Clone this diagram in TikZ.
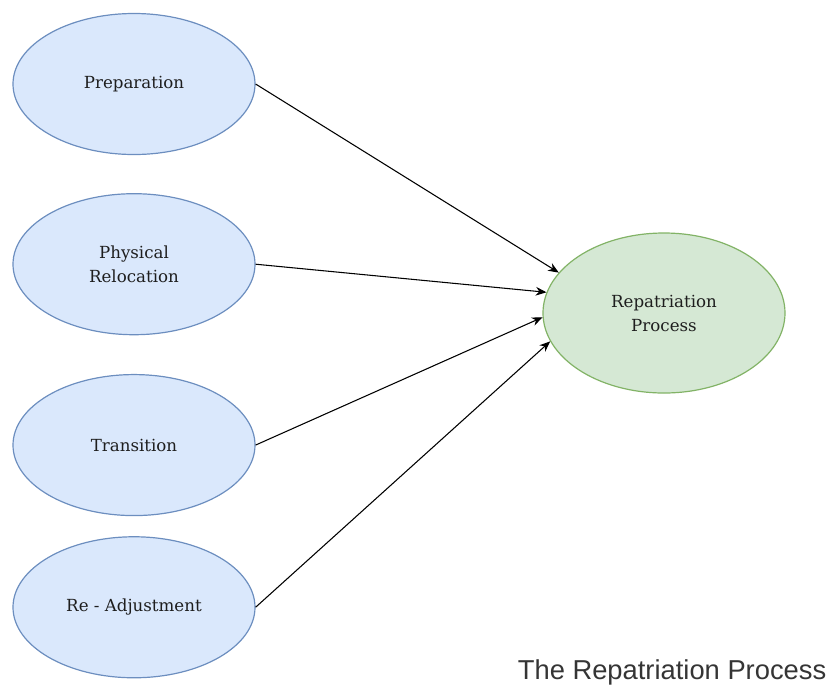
\documentclass[tikz,border=0pt]{standalone}
\usepackage{fontspec}
\setmainfont{DejaVu Serif}
\newfontfamily\titlefont{Liberation Sans}
\usetikzlibrary{shapes.geometric,arrows.meta,positioning}
\definecolor{stagefill}{HTML}{DAE8FC}
\definecolor{stageline}{HTML}{6C8EBF}
\definecolor{goalfill}{HTML}{D5E8D4}
\definecolor{goalline}{HTML}{82B366}
\definecolor{ink}{RGB}{30,30,30}

\begin{document}
\begin{tikzpicture}[x=0.75pt,y=-0.75pt,font=\fontsize{12.5}{18}\selectfont,
  stage/.style={ellipse,draw=stageline,fill=stagefill,line width=0.9pt,minimum width=181.5pt,minimum height=105.75pt,align=center,text=ink,inner sep=0pt},
  goal/.style={ellipse,draw=goalline,fill=goalfill,line width=0.9pt,minimum width=181.5pt,minimum height=120pt,align=center,text=ink,inner sep=0pt},
  a/.style={-{Stealth[length=8pt,width=6.5pt]},line width=0.8pt,color=black}]
  \useasboundingbox (0,0) rectangle (833,687);
  \node[stage] (prep) at (134,84) {Preparation};
  \node[stage,below=28.5pt of prep] (reloc) {Physical\\Relocation};
  \node[stage,below=29pt of reloc] (trans) {Transition};
  \node[stage,below=15pt of trans] (readj) {Re - Adjustment};
  \node[goal] (rp) at (664,313) {Repatriation\\Process};
  \draw[a] (prep.east)--(rp.159); \draw[a] (reloc.east)--(rp.170);
  \draw[a] (trans.east)--(rp.182); \draw[a] (readj.east)--(rp.194);
  \node[anchor=east,font=\titlefont\fontsize{20.5}{24}\selectfont,text=ink!90] (title) at (831,672) {The Repatriation Process};
\end{tikzpicture}
\end{document}
